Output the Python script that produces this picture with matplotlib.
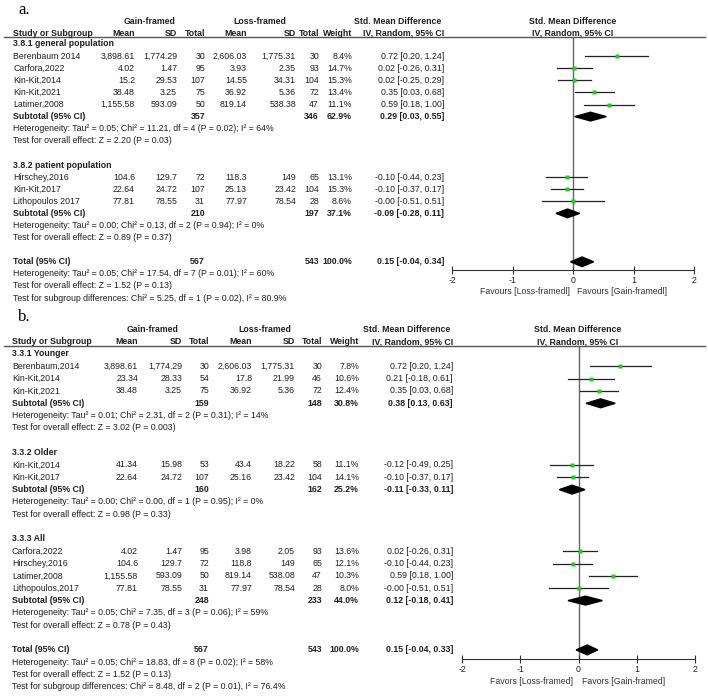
import matplotlib
matplotlib.use('Agg')
import matplotlib.pyplot as plt
from matplotlib.patches import Polygon

plt.rcParams['font.family'] = ['Liberation Sans', 'DejaVu Sans']

# ---------------- panel a data ----------------
a_groups = ['3.8.1 general population', '3.8.2 patient population']
a_study = ['Berenbaum 2014', 'Carfora,2022', 'Kin-Kit,2014', 'Kin-Kit,2021', 'Latimer,2008',
           'Hirschey,2016', 'Kin-Kit,2017', 'Lithopoulos 2017']
a_group = [0, 0, 0, 0, 0, 1, 1, 1]
a_gain_mean = [3898.61, 4.02, 15.2, 38.48, 1155.58, 104.6, 22.64, 77.81]
a_gain_sd = [1774.29, 1.47, 29.53, 3.25, 593.09, 129.7, 24.72, 78.55]
a_gain_n = [30, 95, 107, 75, 50, 72, 107, 31]
a_loss_mean = [2606.03, 3.93, 14.55, 36.92, 819.14, 118.3, 25.13, 77.97]
a_loss_sd = [1775.31, 2.35, 34.31, 5.36, 538.38, 149, 23.42, 78.54]
a_loss_n = [30, 93, 104, 72, 47, 65, 104, 28]
a_weight = [8.4, 14.7, 15.3, 13.4, 11.1, 13.1, 15.3, 8.6]
a_smd = [0.72, 0.02, 0.02, 0.35, 0.59, -0.10, -0.10, -0.0]
a_lo = [0.20, -0.26, -0.25, 0.03, 0.18, -0.44, -0.37, -0.51]
a_hi = [1.24, 0.31, 0.29, 0.68, 1.00, 0.23, 0.17, 0.51]
a_sub_gain_n = [357, 210]
a_sub_loss_n = [346, 197]
a_sub_weight = [62.9, 37.1]
a_sub_smd = [0.29, -0.09]
a_sub_lo = [0.03, -0.28]
a_sub_hi = [0.55, 0.11]
a_sub_het = ['Heterogeneity: Tau\u00b2 = 0.05; Chi\u00b2 = 11.21, df = 4 (P = 0.02); I\u00b2 = 64%',
             'Heterogeneity: Tau\u00b2 = 0.00; Chi\u00b2 = 0.13, df = 2 (P = 0.94); I\u00b2 = 0%']
a_sub_test = ['Test for overall effect: Z = 2.20 (P = 0.03)',
              'Test for overall effect: Z = 0.89 (P = 0.37)']
a_total = [567, 543, 100.0, 0.15, -0.04, 0.34]
a_total_text = ['Heterogeneity: Tau\u00b2 = 0.05; Chi\u00b2 = 17.54, df = 7 (P = 0.01); I\u00b2 = 60%',
                'Test for overall effect: Z = 1.52 (P = 0.13)',
                'Test for subgroup differences: Chi\u00b2 = 5.25, df = 1 (P = 0.02), I\u00b2 = 80.9%']
a_favours = ['Favours [Loss-framedl]', 'Favours [Gain-framedl]']

# ---------------- panel b data ----------------
b_groups = ['3.3.1 Younger', '3.3.2 Older', '3.3.3 All']
b_study = ['Berenbaum,2014', 'Kin-Kit,2014', 'Kin-Kit,2021',
           'Kin-Kit,2014', 'Kin-Kit,2017',
           'Carfora,2022', 'Hirschey,2016', 'Latimer,2008', 'Lithopoulos,2017']
b_group = [0, 0, 0, 1, 1, 2, 2, 2, 2]
b_gain_mean = [3898.61, 23.34, 38.48, 41.34, 22.64, 4.02, 104.6, 1155.58, 77.81]
b_gain_sd = [1774.29, 28.33, 3.25, 15.98, 24.72, 1.47, 129.7, 593.09, 78.55]
b_gain_n = [30, 54, 75, 53, 107, 95, 72, 50, 31]
b_loss_mean = [2606.03, 17.8, 36.92, 43.4, 25.16, 3.98, 118.8, 819.14, 77.97]
b_loss_sd = [1775.31, 21.99, 5.36, 18.22, 23.42, 2.05, 149, 538.08, 78.54]
b_loss_n = [30, 46, 72, 58, 104, 93, 65, 47, 28]
b_weight = [7.8, 10.6, 12.4, 11.1, 14.1, 13.6, 12.1, 10.3, 8.0]
b_smd = [0.72, 0.21, 0.35, -0.12, -0.10, 0.02, -0.10, 0.59, -0.0]
b_lo = [0.20, -0.18, 0.03, -0.49, -0.37, -0.26, -0.44, 0.18, -0.51]
b_hi = [1.24, 0.61, 0.68, 0.25, 0.17, 0.31, 0.23, 1.00, 0.51]
b_sub_gain_n = [159, 160, 248]
b_sub_loss_n = [148, 162, 233]
b_sub_weight = [30.8, 25.2, 44.0]
b_sub_smd = [0.38, -0.11, 0.12]
b_sub_lo = [0.13, -0.33, -0.18]
b_sub_hi = [0.63, 0.11, 0.41]
b_sub_het = ['Heterogeneity: Tau\u00b2 = 0.01; Chi\u00b2 = 2.31, df = 2 (P = 0.31); I\u00b2 = 14%',
             'Heterogeneity: Tau\u00b2 = 0.00; Chi\u00b2 = 0.00, df = 1 (P = 0.95); I\u00b2 = 0%',
             'Heterogeneity: Tau\u00b2 = 0.05; Chi\u00b2 = 7.35, df = 3 (P = 0.06); I\u00b2 = 59%']
b_sub_test = ['Test for overall effect: Z = 3.02 (P = 0.003)',
              'Test for overall effect: Z = 0.98 (P = 0.33)',
              'Test for overall effect: Z = 0.78 (P = 0.43)']
b_total = [567, 543, 100.0, 0.15, -0.04, 0.33]
b_total_text = ['Heterogeneity: Tau\u00b2 = 0.05; Chi\u00b2 = 18.83, df = 8 (P = 0.02); I\u00b2 = 58%',
                'Test for overall effect: Z = 1.52 (P = 0.13)',
                'Test for subgroup differences: Chi\u00b2 = 8.48, df = 2 (P = 0.01), I\u00b2 = 76.4%']
b_favours = ['Favors [Loss-framed]', 'Favors [Gain-framed]']

FS = 6.3
TXT = '#1e1e1e'
W, H = 708, 696

fig = plt.figure(figsize=(W / 100, H / 100), dpi=100)
# background axes in pixel units for the table text
bg = fig.add_axes([0, 0, 1, 1])
bg.set_xlim(0, W)
bg.set_ylim(H, 0)
bg.axis('off')


def num(v):
    return f"{v:,}"


def ci(e, l, h):
    return f"{e:.2f} [{l:.2f}, {h:.2f}]"


def t(x, y, s, ha='left', bold=False, color=TXT):
    bg.text(x, y, s, ha=ha, va='center', fontsize=FS, color=color,
            fontweight='bold' if bold else 'normal')


def diamond(ax, r, e, l, h, hh=0.36):
    ax.add_patch(Polygon([[l, r], [e, r - hh], [h, r], [e, r + hh]],
                         closed=True, color='black', zorder=3))


def draw_panel(d, L):
    y0, dy = L['y0'], L['dy']
    ry = lambda r: y0 + r * dy
    cols = L['cols']
    bg.text(L['lab'][0], L['lab'][1], L['label'], fontsize=12, family='Liberation Serif',
            va='center', color='black')
    hy, cy = L['hy'], L['cy']
    t(L['gain_c'], hy, 'Gain-framed', ha='center', bold=True)
    t(L['loss_c'], hy, 'Loss-framed', ha='center', bold=True)
    t(L['smd_c'], hy, 'Std. Mean Difference', ha='center', bold=True)
    t(L['plot_c'], hy, 'Std. Mean Difference', ha='center', bold=True)
    t(L['sx'], cy, 'Study or Subgroup', bold=True)
    for x, s in zip(cols, ['Mean', 'SD', 'Total', 'Mean', 'SD', 'Total', 'Weight',
                           'IV, Random, 95% CI']):
        t(x, cy, s, ha='right', bold=True)
    t(L['plot_c'], cy, 'IV, Random, 95% CI', ha='center', bold=True)
    bg.plot([4, 705], [L['line'], L['line']], color='#555555', lw=1)

    # forest plot axes
    fx0, fx1, ft, fb = L['forest']
    ax = fig.add_axes([fx0 / W, 1 - fb / H, (fx1 - fx0) / W, (fb - ft) / H])
    ax.set_xlim(-2, 2)
    ax.set_ylim((fb - y0) / dy, (ft - y0) / dy)
    ax.patch.set_alpha(0)
    for s in ['top', 'left', 'right']:
        ax.spines[s].set_visible(False)
    ax.spines['bottom'].set_color('#333333')
    ax.set_yticks([])
    ax.set_xticks([-2, -1, 0, 1, 2])
    ax.set_xticklabels(['-2', '-1', '0', '1', '2'], fontsize=FS, color=TXT)
    ax.tick_params(axis='x', direction='inout', length=6, width=0.8, color='#333333', pad=1.5)
    ax.axvline(0, color='#666666', lw=1, zorder=1)

    r = 0
    for g, gname in enumerate(d['groups']):
        t(L['sx'], ry(r), gname, bold=True)
        r += 1
        for i in range(len(d['study'])):
            if d['group'][i] != g:
                continue
            y = ry(r)
            t(L['sx'], y, d['study'][i])
            vals = [num(d['gm'][i]), num(d['gs'][i]), str(d['gn'][i]),
                    num(d['lm'][i]), num(d['ls'][i]), str(d['ln'][i]),
                    f"{d['w'][i]:.1f}%", ci(d['smd'][i], d['lo'][i], d['hi'][i])]
            for x, s in zip(cols, vals):
                t(x, y, s, ha='right')
            ax.plot([d['lo'][i], d['hi'][i]], [r, r], color='#222222', lw=0.9, zorder=2)
            ax.plot(d['smd'][i], r, 's', color='#22cc22', ms=2.8, mec='none', zorder=3)
            r += 1
        y = ry(r)
        t(L['sx'], y, 'Subtotal (95% CI)', bold=True)
        t(cols[2], y, str(d['sgn'][g]), ha='right', bold=True)
        t(cols[5], y, str(d['sln'][g]), ha='right', bold=True)
        t(cols[6], y, f"{d['sw'][g]:.1f}%", ha='right', bold=True)
        t(cols[7], y, ci(d['ssmd'][g], d['slo'][g], d['shi'][g]), ha='right', bold=True)
        diamond(ax, r, d['ssmd'][g], d['slo'][g], d['shi'][g])
        r += 1
        t(L['sx'], ry(r), d['shet'][g])
        r += 1
        t(L['sx'], ry(r), d['stest'][g])
        r += 2
    tot = d['total']
    y = ry(r)
    t(L['sx'], y, 'Total (95% CI)', bold=True)
    t(cols[2], y, str(tot[0]), ha='right', bold=True)
    t(cols[5], y, str(tot[1]), ha='right', bold=True)
    t(cols[6], y, f"{tot[2]:.1f}%", ha='right', bold=True)
    t(cols[7], y, ci(tot[3], tot[4], tot[5]), ha='right', bold=True)
    diamond(ax, r, tot[3], tot[4], tot[5], hh=0.4)
    for s in d['ttext']:
        r += 1
        t(L['sx'], ry(r), s)
    t(L['fav_x'][0], L['fav_y'], d['fav'][0], ha='right', color='#333333')
    t(L['fav_x'][1], L['fav_y'], d['fav'][1], ha='left', color='#333333')


panel_a = dict(groups=a_groups, study=a_study, group=a_group, gm=a_gain_mean, gs=a_gain_sd,
               gn=a_gain_n, lm=a_loss_mean, ls=a_loss_sd, ln=a_loss_n, w=a_weight, smd=a_smd,
               lo=a_lo, hi=a_hi, sgn=a_sub_gain_n, sln=a_sub_loss_n, sw=a_sub_weight,
               ssmd=a_sub_smd, slo=a_sub_lo, shi=a_sub_hi, shet=a_sub_het, stest=a_sub_test,
               total=a_total, ttext=a_total_text, fav=a_favours)
panel_b = dict(groups=b_groups, study=b_study, group=b_group, gm=b_gain_mean, gs=b_gain_sd,
               gn=b_gain_n, lm=b_loss_mean, ls=b_loss_sd, ln=b_loss_n, w=b_weight, smd=b_smd,
               lo=b_lo, hi=b_hi, sgn=b_sub_gain_n, sln=b_sub_loss_n, sw=b_sub_weight,
               ssmd=b_sub_smd, slo=b_sub_lo, shi=b_sub_hi, shet=b_sub_het, stest=b_sub_test,
               total=b_total, ttext=b_total_text, fav=b_favours)

layout_a = dict(label='a.', lab=(18, 10), y0=44, dy=12.1, hy=21, cy=33, line=37,
                cols=[135, 177, 205, 247, 296, 319, 352, 444], sx=13,
                gain_c=150, loss_c=260, smd_c=398, plot_c=573,
                forest=(452, 694, 37, 270), fav_y=291, fav_x=(570, 577))
layout_b = dict(label='b.', lab=(18, 317), y0=354, dy=12.33, hy=330, cy=342, line=346,
                cols=[138, 182, 209, 252, 295, 322, 359, 453], sx=12,
                gain_c=153, loss_c=265, smd_c=407, plot_c=578,
                forest=(462, 695, 346, 659), fav_y=681, fav_x=(573, 582))

draw_panel(panel_a, layout_a)
draw_panel(panel_b, layout_b)

fig.savefig('out.png', dpi=100, facecolor='white')
